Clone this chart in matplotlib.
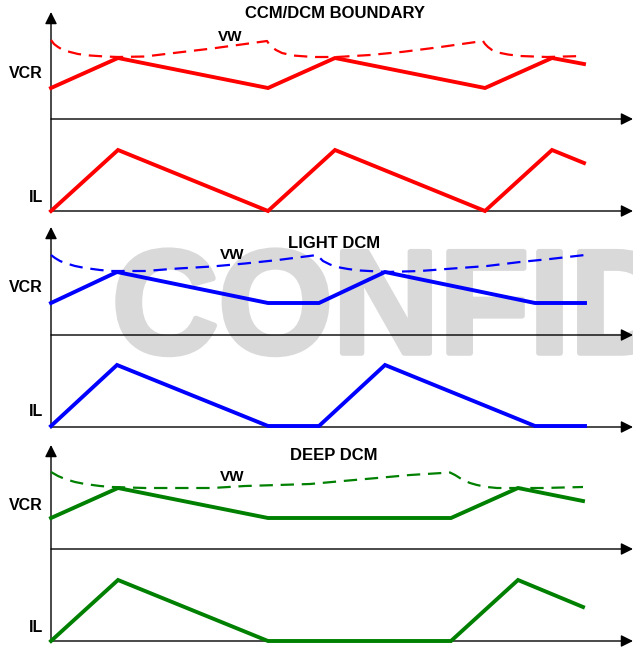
import matplotlib
matplotlib.use('Agg')
import matplotlib.pyplot as plt
import matplotlib.patheffects as pe

plt.rcParams['font.family'] = ['Liberation Sans', 'DejaVu Sans']

# ── waveform data (x: time, y: level, drawing units, y grows downward) ──

# CCM/DCM boundary
ccm_t = [51, 118, 268, 335, 485, 552, 584]
ccm_vcr = [88, 58, 88, 58, 88, 58, 64]
ccm_il = [211, 150, 211, 150, 211, 150, 163]
ccm_vw_t = [51, 54, 58, 63, 70, 78, 90, 105, 118, 145, 178, 212, 245, 267,
            269, 272, 276, 282, 293, 313, 337, 370, 403, 437, 483,
            485, 488, 492, 498, 508, 520, 547, 583]
ccm_vw = [40, 44, 47, 50, 52, 54, 55.5, 56.5, 57, 56.5, 52.5, 48.5, 44, 41,
          44, 47, 50, 53, 55.5, 57, 57, 55, 51.8, 47.5, 41,
          44, 47, 50, 52.5, 54.5, 56, 57, 56]

# light DCM
ldcm_t = [51, 117, 268, 319, 385, 535, 585]
ldcm_vcr = [303, 272, 303, 303, 272, 303, 303]
ldcm_il = [426, 365, 426, 426, 365, 426, 426]
ldcm_vw_t = [51, 55, 60, 65, 75, 85, 100, 112, 145, 178, 212, 245, 278, 317,
             319, 323, 330, 337, 348, 360, 387, 420, 453, 487, 520, 550, 585]
ldcm_vw = [255, 258, 261, 263, 266, 268, 270, 271, 271, 268.5, 266.5, 263.5, 260, 255,
           257, 261, 264.5, 267, 269, 270.5, 272, 271, 268.5, 266, 262, 259, 255]

# deep DCM
ddcm_t = [51, 118, 268, 451, 518, 583]
ddcm_vcr = [518, 488, 518, 518, 488, 501]
ddcm_il = [641, 580, 641, 641, 580, 607]
ddcm_vw_t = [51, 58, 65, 75, 85, 100, 112, 145, 178, 212, 245, 278, 310, 343, 377, 410,
             450, 455, 463, 470, 477, 487, 497, 517, 543, 583]
ddcm_vw = [472, 476, 479, 482, 484, 486, 487, 488, 488, 488, 486, 485, 484, 481, 478, 475,
           472.5, 475, 480, 483, 485, 487, 488, 488, 488, 487]

# panel titles and label anchors
titles = ['CCM/DCM BOUNDARY', 'LIGHT DCM', 'DEEP DCM']
title_pos = [(335, 14), (334, 243), (334, 455)]
vw_label_pos = [(230, 37), (232, 255), (232, 477)]
vcr_label_y = [73, 287, 505]
il_label_y = [197, 412, 627]
# y-axis arrow tip, VCR time axis, IL time axis
axis_rows = [(12, 119, 211), (227, 335, 427), (445, 549, 641)]
colors = ['#ff0000', '#0000ff', '#008000']

fig = plt.figure(figsize=(6.33, 6.48), dpi=100)
ax = fig.add_axes([0, 0, 1, 1])
ax.set_xlim(0, 633)
ax.set_ylim(648, 0)
ax.axis('off')

# watermark behind everything
ax.text(112, 353, 'CONFIDENTIAL', fontsize=106, fontweight='bold',
        color='#d9d9d9', ha='left', va='baseline', zorder=0,
        path_effects=[pe.withStroke(linewidth=4, foreground='#d9d9d9')])

x0, x_end = 51, 633
arrow = dict(arrowstyle='-|>,head_length=0.72,head_width=0.36', mutation_scale=10,
             lw=1.0, color='black', shrinkA=0, shrinkB=0)

panels = [
    (ccm_t, ccm_vcr, ccm_il, ccm_vw_t, ccm_vw),
    (ldcm_t, ldcm_vcr, ldcm_il, ldcm_vw_t, ldcm_vw),
    (ddcm_t, ddcm_vcr, ddcm_il, ddcm_vw_t, ddcm_vw),
]

for i, (t, vcr, il, vw_t, vw) in enumerate(panels):
    top, y_vcr, y_il = axis_rows[i]
    c = colors[i]

    # axes with arrowheads
    ax.annotate('', xy=(x0, top), xytext=(x0, y_il + 1), arrowprops=arrow, zorder=2)
    ax.annotate('', xy=(x_end, y_vcr), xytext=(x0, y_vcr), arrowprops=arrow, zorder=2)
    ax.annotate('', xy=(x_end, y_il), xytext=(x0, y_il), arrowprops=arrow, zorder=2)

    # waveforms
    ax.plot(vw_t, vw, color=c, lw=1.6, dashes=(6, 3.5), zorder=3)
    ax.plot(t, vcr, color=c, lw=2.8, solid_joinstyle='miter', zorder=4)
    ax.plot(t, il, color=c, lw=2.8, solid_joinstyle='miter', zorder=4)

    # labels
    ax.text(*title_pos[i], titles[i], fontsize=12, fontweight='bold',
            ha='center', va='center', zorder=5)
    ax.text(*vw_label_pos[i], 'VW', fontsize=11, fontweight='bold',
            ha='center', va='center', zorder=5)
    ax.text(43, vcr_label_y[i], 'VCR', fontsize=11.5, fontweight='bold',
            ha='right', va='center', zorder=5)
    ax.text(43, il_label_y[i], 'IL', fontsize=11.5, fontweight='bold',
            ha='right', va='center', zorder=5)

fig.savefig('out.png', dpi=100)
